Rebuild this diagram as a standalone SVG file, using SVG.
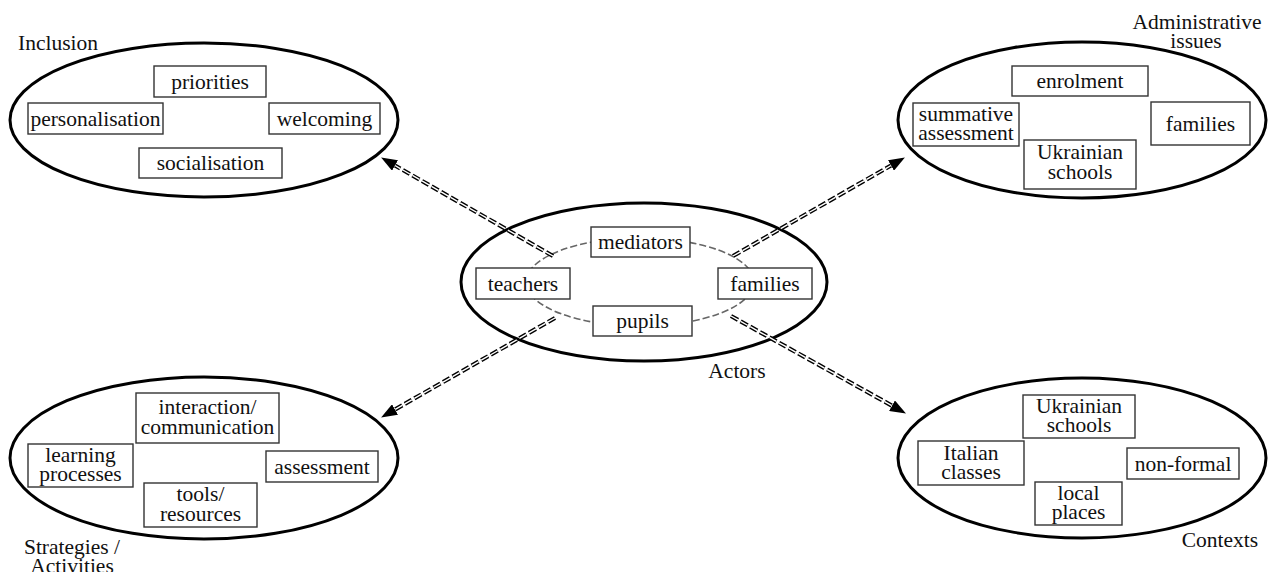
<svg xmlns="http://www.w3.org/2000/svg" width="1268" height="572" viewBox="0 0 1268 572" font-family="'Liberation Serif', 'DejaVu Serif', serif">
<style>
  text { font-family: "Liberation Serif", "Times New Roman", "DejaVu Serif", serif; font-size: 21.5px; fill: #111; }
  .c { text-anchor: middle; }
  .cluster { fill: none; stroke: #000; stroke-width: 3; }
  .box { fill: #fff; stroke: #333; stroke-width: 1.4; }
  .inner { fill: none; stroke: #666; stroke-width: 1.6; stroke-dasharray: 7 3; }
  .dbl { stroke: #000; stroke-width: 4.2; stroke-dasharray: 8 3; fill: none; }
  .gap { stroke: #fff; stroke-width: 1.4; stroke-dasharray: 8 3; fill: none; }
</style>
<defs>
  <marker id="arrow" markerUnits="userSpaceOnUse" markerWidth="16" markerHeight="12" refX="0" refY="6" orient="auto" viewBox="0 0 16 12">
    <path d="M0,0 L16,6 L0,12 z" fill="#000"/>
  </marker>
</defs>
<rect width="1268" height="572" fill="#fff"/>

<!-- clusters -->
<g id="inclusion">
  <ellipse class="cluster" cx="204" cy="120" rx="194" ry="77"/>
  <text x="18" y="50">Inclusion</text>
</g>
<g id="administrative">
  <ellipse class="cluster" cx="1082" cy="120" rx="184" ry="78"/>
  <text class="c" x="1197" y="29">Administrative</text>
  <text class="c" x="1196" y="48">issues</text>
</g>
<g id="actors">
  <ellipse class="cluster" cx="644" cy="282" rx="183" ry="79"/>
  <ellipse class="inner" cx="640" cy="282" rx="114" ry="44"/>
  <text class="c" x="737" y="378">Actors</text>
</g>
<g id="strategies">
  <ellipse class="cluster" cx="204" cy="458" rx="194" ry="81"/>
  <text class="c" x="72" y="554">Strategies /</text>
  <text class="c" x="72" y="573">Activities</text>
</g>
<g id="contexts">
  <ellipse class="cluster" cx="1082" cy="458" rx="184" ry="80"/>
  <text class="c" x="1220" y="547">Contexts</text>
</g>

<!-- connectors -->
<g id="connectors">
  <line class="dbl" x1="553" y1="256" x2="395" y2="165.5" marker-end="url(#arrow)"/>
  <line class="gap" x1="553" y1="256" x2="395" y2="165.5"/>
  <line class="dbl" x1="733" y1="256" x2="891" y2="165.5" marker-end="url(#arrow)"/>
  <line class="gap" x1="733" y1="256" x2="891" y2="165.5"/>
  <line class="dbl" x1="555" y1="318" x2="395" y2="409.5" marker-end="url(#arrow)"/>
  <line class="gap" x1="555" y1="318" x2="395" y2="409.5"/>
  <line class="dbl" x1="731" y1="316" x2="892" y2="405.7" marker-end="url(#arrow)"/>
  <line class="gap" x1="731" y1="316" x2="892" y2="405.7"/>
</g>

<!-- Inclusion nodes -->
<g id="n-priorities"><rect class="box" x="154" y="66" width="112" height="31"/><text class="c" x="210" y="88.5">priorities</text></g>
<g id="n-personalisation"><rect class="box" x="28" y="103" width="135" height="31"/><text class="c" x="95.5" y="125.5">personalisation</text></g>
<g id="n-welcoming"><rect class="box" x="269" y="103" width="111" height="31"/><text class="c" x="324.5" y="125.5">welcoming</text></g>
<g id="n-socialisation"><rect class="box" x="139" y="148" width="143" height="30"/><text class="c" x="210.5" y="170">socialisation</text></g>

<!-- Administrative nodes -->
<g id="n-enrolment"><rect class="box" x="1012" y="66" width="136" height="30"/><text class="c" x="1080" y="88">enrolment</text></g>
<g id="n-summative"><rect class="box" x="913" y="103" width="106" height="43"/><text class="c" x="966" y="121">summative</text><text class="c" x="966" y="140">assessment</text></g>
<g id="n-families-admin"><rect class="box" x="1151" y="102" width="99" height="43"/><text class="c" x="1200.5" y="131">families</text></g>
<g id="n-ukr-admin"><rect class="box" x="1024" y="140" width="112" height="49"/><text class="c" x="1080" y="159">Ukrainian</text><text class="c" x="1080" y="178.5">schools</text></g>

<!-- Actors nodes -->
<g id="n-mediators"><rect class="box" x="591" y="227" width="99" height="30"/><text class="c" x="640.5" y="249">mediators</text></g>
<g id="n-teachers"><rect class="box" x="476" y="268" width="94" height="31"/><text class="c" x="523" y="290.5">teachers</text></g>
<g id="n-families"><rect class="box" x="718" y="268" width="94" height="31"/><text class="c" x="765" y="290.5">families</text></g>
<g id="n-pupils"><rect class="box" x="593" y="306" width="99" height="30"/><text class="c" x="642.5" y="328">pupils</text></g>

<!-- Strategies nodes -->
<g id="n-interaction"><rect class="box" x="136" y="393" width="143" height="50"/><text class="c" x="207.5" y="414">interaction/</text><text class="c" x="207.5" y="434">communication</text></g>
<g id="n-learning"><rect class="box" x="28" y="444" width="105" height="43"/><text class="c" x="80.5" y="462">learning</text><text class="c" x="80.5" y="481">processes</text></g>
<g id="n-assessment"><rect class="box" x="266" y="451" width="112" height="31"/><text class="c" x="322" y="473.5">assessment</text></g>
<g id="n-tools"><rect class="box" x="144" y="483" width="113" height="44"/><text class="c" x="200.5" y="501">tools/</text><text class="c" x="200.5" y="520.5">resources</text></g>

<!-- Contexts nodes -->
<g id="n-ukr-ctx"><rect class="box" x="1023" y="395" width="112" height="43"/><text class="c" x="1079" y="413">Ukrainian</text><text class="c" x="1079" y="432">schools</text></g>
<g id="n-italian"><rect class="box" x="918" y="441" width="106" height="44"/><text class="c" x="971" y="460">Italian</text><text class="c" x="971" y="479">classes</text></g>
<g id="n-nonformal"><rect class="box" x="1127" y="448" width="112" height="31"/><text class="c" x="1183" y="470.5">non-formal</text></g>
<g id="n-local"><rect class="box" x="1035" y="482" width="87" height="43"/><text class="c" x="1078.5" y="500">local</text><text class="c" x="1078.5" y="519">places</text></g>
</svg>
